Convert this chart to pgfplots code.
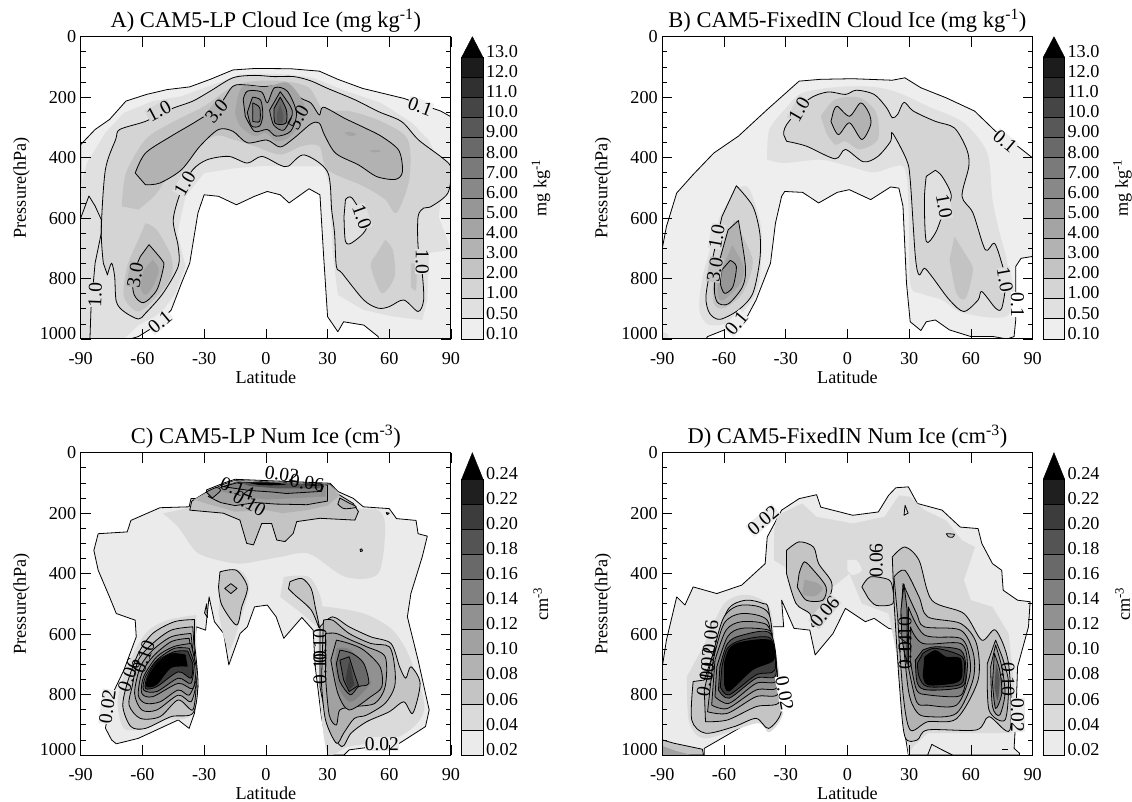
\documentclass[border=0pt]{standalone}
\usepackage{fontspec}
\setmainfont{Liberation Serif}
\usepackage{pgfplots}
\pgfplotsset{compat=1.18}
\definecolor{a0}{gray}{.933}\definecolor{aA}{gray}{.88}\definecolor{aB}{gray}{.83}\definecolor{aC}{gray}{.765}
\definecolor{aD}{gray}{.70}\definecolor{aE}{gray}{.645}\definecolor{aF}{gray}{.59}\definecolor{aG}{gray}{.535}
\definecolor{aH}{gray}{.48}\definecolor{aI}{gray}{.41}\definecolor{aJ}{gray}{.345}\definecolor{aK}{gray}{.27}
\definecolor{aL}{gray}{.19}\definecolor{aM}{gray}{.11}
\definecolor{b1}{gray}{.92}\definecolor{b2}{gray}{.855}\definecolor{b3}{gray}{.77}\definecolor{b4}{gray}{.70}
\definecolor{b5}{gray}{.63}\definecolor{b6}{gray}{.57}\definecolor{b7}{gray}{.50}\definecolor{b8}{gray}{.41}
\definecolor{b9}{gray}{.33}\definecolor{bA}{gray}{.235}\definecolor{bB}{gray}{.12}
\newcommand{\tk}{\fontsize{18.2}{18}\selectfont}
\newcommand{\lbf}{\fontsize{19.5}{19}\selectfont}
\newcommand{\ttl}{\fontsize{22.5}{23}\selectfont}
\newcommand{\F}[2]{\addplot[smooth,tension=.5,fill=#1,draw=none,forget plot] coordinates {#2} -- cycle;}
\newcommand{\FL}[2]{\addplot[smooth,tension=.5,fill=#1,draw=black,line width=.8pt,line join=round,forget plot] coordinates {#2} -- cycle;}
\newcommand{\Fa}[2]{\addplot[fill=#1,draw=none,forget plot] coordinates {#2} -- cycle;}
\newcommand{\FLa}[2]{\addplot[fill=#1,draw=black,line width=.8pt,line join=round,forget plot] coordinates {#2} -- cycle;}
\newcommand{\CL}[1]{\addplot[draw=black,line width=.8pt,line join=round,forget plot] coordinates {#1};}
\newcommand{\LB}[5]{\node[rotate=#3,fill=#5,inner sep=.3pt,font=\lbf] at (axis cs:#1,#2) {#4};}
\newcommand{\B}[3]{\addplot[fill=#1,draw=black,line width=.8pt,forget plot] coordinates {(0,#2)(1,#2)(1,#3)(0,#3)} -- cycle;}
\pgfplotsset{
 panel/.style={scale only axis,width=370.3pt,height=302.3pt,anchor=south west,
  xmin=-90,xmax=90,ymin=0,ymax=1000,y dir=reverse,axis on top,no markers,
  xtick={-90,-60,-30,0,30,60,90},xticklabels={-90,-60,-30,0,30,60,90},
  ytick={0,200,400,600,800,1000},
  yticklabels={\raisebox{-12pt}{0},200,400,600,800,\raisebox{12pt}{1000}},
  minor ytick={50,100,150,250,300,350,450,500,550,650,700,750,850,900,950},
  tick align=inside,major tick length=10pt,minor tick length=5pt,
  tick style={black,line width=.7pt},axis line style={line width=1pt},
  every axis/.append style={font=\tk},
  xticklabel style={font=\tk,yshift=-10pt},yticklabel style={font=\tk,xshift=-1pt},
  title style={font=\ttl,at={(axis description cs:.5,1)},anchor=south,yshift=-5pt},
  xlabel=Latitude,ylabel={Pressure(hPa)},
  xlabel style={font=\tk,at={(axis description cs:.5,-.125)},anchor=center},
  ylabel style={font=\tk,at={(axis description cs:-.16,.5)},anchor=center},
 },
 cbar/.style={scale only axis,width=21.3pt,height=302.3pt,anchor=south west,
  xmin=0,xmax=1,ymin=0,no markers,xtick=\empty,axis line style={draw=none},
  tick style={draw=none},yticklabel pos=right,clip=false,
  yticklabel style={font=\tk,yshift=5.7pt,xshift=-.5pt},
  ylabel style={font=\tk,at={(axis description cs:3.72,.5)},anchor=center},
 },
 cbarU/.style={cbar,ymax=15.02,ytick={0,...,14},
  yticklabels={0.10,0.50,1.00,2.00,3.00,4.00,5.00,6.00,7.00,8.00,9.00,10.0,11.0,12.0,13.0},ylabel={mg kg\textsuperscript{-1}}},
 cbarL/.style={cbar,ymax=12.05,ytick={0,...,11},
  yticklabels={0.02,0.04,0.06,0.08,0.10,0.12,0.14,0.16,0.18,0.20,0.22,0.24},ylabel={cm\textsuperscript{-3}}},
}
\newcommand{\barU}{\B{a0}{0}{1}\B{aA}{1}{2}\B{aB}{2}{3}\B{aC}{3}{4}\B{aD}{4}{5}\B{aE}{5}{6}\B{aF}{6}{7}\B{aG}{7}{8}\B{aH}{8}{9}\B{aI}{9}{10}\B{aJ}{10}{11}\B{aK}{11}{12}\B{aL}{12}{13}\B{aM}{13}{14}
\addplot[fill=black,draw=black,forget plot] coordinates {(0,14)(1,14)(.5,15.02)} -- cycle;}
\newcommand{\barL}{\B{b1}{0}{1}\B{b2}{1}{2}\B{b3}{2}{3}\B{b4}{3}{4}\B{b5}{4}{5}\B{b6}{5}{6}\B{b7}{6}{7}\B{b8}{7}{8}\B{b9}{8}{9}\B{bA}{9}{10}\B{bB}{10}{11}
\addplot[fill=black,draw=black,forget plot] coordinates {(0,11)(1,11)(.5,12.05)} -- cycle;}
\begin{document}
\begin{tikzpicture}
\useasboundingbox (0,0) rectangle (1132pt,802pt);
%% ---------- A ----------
\begin{axis}[panel,at={(80.7pt,463pt)},title={A) CAM5-LP Cloud Ice (mg kg\textsuperscript{-1})}]
\FLa{a0}{(-90,357)(-83,307)(-76,274)(-68,213)(-58,191)(-48,175)(-37,166)(-27,141)(-16,110)(-5,105)(12,106)(26,114)(35,141)(47,171)(67,204)(85,246)(90,265)(90,1000)(54.6,1000)(54.6,992)(47.6,954)(37.8,943)(35,976)(30,926)(28,716)(26.3,523)(21,503)(11.3,550)(7,523)(0.7,512)(-5.5,528)(-14.3,556)(-23,528)(-30,523)(-33,583)(-37,749)(-41,815)(-46,904)(-53,954)(-62,992)(-66,1000)(-90,1000)}
\Fa{aA}{(-90,495)(-87,418)(-78,318)(-69,252)(-55,213)(-41,197)(-23,152)(-13,125)(-2,122)(12,125)(23,136)(39,180)(56,219)(71,285)(79,340)(83,396)(86,495)(84,595)(90,705)(79,716)(78.5,871)(76,937)(62,926)(47.5,904)(35,854)(32.5,716)(31,495)(28,429)(12,429)(0,427)(-14,434)(-30,451)(-39,528)(-43,650)(-39,760)(-44,849)(-51,915)(-62,954)(-69,1000)(-90,1000)}
\FL{aB}{(-79,749)(-80,639)(-78,440)(-73,340)(-71,307)(-58.5,280)(-46,239)(-35.5,213)(-27,180)(-16,136)(-5.5,128)(3.8,132)(13.6,132)(21.8,146)(30,171)(43.4,209)(54.8,248)(66,281)(74.3,342)(86,402)(90,435)(88.5,517)(80.3,562)(76.7,567)(74,595)(74,694)(76,782)(76.7,871)(74,909)(67,871)(60,893)(54.6,898)(47.6,871)(37,782)(34.3,760)(33.4,650)(32,573)(30,447)(18.6,391)(11,428)(7,425)(-2,396)(-9,418)(-18,396)(-28.5,407)(-35.5,440)(-41,506)(-45,605)(-42.6,694)(-42.6,760)(-50,849)(-58.5,915)(-62,934)(-69,909)(-72.7,876)(-73.5,793)(-75,749)(-77,788)}
\FL{aA}{(38.7,539)(42,534)(49,628)(42,681)(38.7,677)(38,594)}
\CL{(-90,600)(-86,527)(-83,560)(-80,605)(-80,650)(-83,749)(-85,900)(-85.5,1000)}
\F{aC}{(-70,561)(-68,451)(-58.5,340)(-46,285)(-30,230)(-16,164)(-5.5,147)(8.7,147)(21,169)(28,241)(40.5,246)(56,280)(69,340)(69.7,473)(63.5,583)(58,539)(47.6,495)(30,440)(26,362)(17.5,362)(7,390)(-5.5,362)(-16,340)(-25,329)(-41,396)(-53,517)(-62,572)}
\F{aC}{(58,672)(61.7,705)(62.6,793)(56.4,849)(51,760)(53,727)}
\F{aC}{(70.5,749)(73,760)(73,838)(70.5,827)}
\F{aC}{(-58.5,617)(-53,639)(-46,727)(-46,793)(-53,860)(-62,909)(-69,860)(-67.4,760)(-62,672)}
\FL{aD}{(-63.5,451)(-58.5,385)(-46,329)(-33.8,280)(-23,230)(-16,164)(-9,160)(-2,165)(3.8,163)(10,163)(17,203)(22,220)(26,259)(28,233)(38.3,270)(48.2,302)(56.5,331)(64.7,377)(66.4,447)(63,472)(54,463)(45,424)(34,386)(28.5,325)(26,286)(22,288)(13.6,336)(7,365)(0.5,342)(-9,351)(-16,313)(-23,307)(-32,362)(-41,440)(-51.5,484)(-58.5,490)}
\F{aE}{(-14,208)(-11,164)(0,166)(10.4,152)(17.5,208)(19,263)(12,329)(5,346)(0,318)(-5.5,329)(-12.5,296)(-15,252)}
\F{aE}{(38,318)(41,315)(44,323)(41,330)}
\F{aE}{(50,378)(54,374)(56,379)(53,383)}
\FL{aD}{(-56.8,688)(-50.6,738)(-49.7,760)(-53,838)(-59.4,880)(-64,854)(-64.7,793)(-61,727)}
\F{aE}{(-55,738)(-52,771)(-55,827)(-58.5,854)(-61,827)(-59.4,771)}
\FL{aF}{(-11,208)(-9,180)(-2,183)(0.7,219)(4.2,169)(10.4,180)(14.9,252)(12,313)(5,329)(0.7,307)(-5.5,313)(-10,263)}
\FL{aG}{(-6.5,200)(-2.5,210)(-1.5,260)(-3,295)(-7,295)(-9,250)}
\FL{aH}{(-6.4,219)(-3,235)(-3,280)(-6.4,280)}
\FL{aG}{(7,182)(12,231)(12.8,259)(8.7,309)(3.8,292)(1.8,243)}
\FL{aI}{(7,200)(10,243)(9.7,286)(4.5,286)(4,237)}
\F{aJ}{(7,225)(8.5,260)(8,285)(5.5,285)(5.5,250)}
\LB{-52}{246}{28}{1.0}{aB}
\LB{-24}{246}{50}{3.0}{aD}
\LB{15.7}{268}{60}{5.0}{none}
\LB{75}{230}{-20}{0.1}{a0}
\LB{-39.4}{486}{60}{1.0}{aA}
\LB{-63.5}{788}{80}{3.0}{aD}
\LB{-83}{854}{88}{1.0}{aA}
\LB{-51.5}{943}{40}{0.1}{a0}
\LB{76}{744}{-90}{1.0}{aA}
\LB{46.7}{595}{-70}{1.0}{aA}
\end{axis}
\begin{axis}[cbarU,at={(461.7pt,463pt)}]\barU\end{axis}
%% ---------- B ----------
\begin{axis}[panel,at={(662.3pt,463pt)},title={B) CAM5-FixedIN Cloud Ice (mg kg\textsuperscript{-1})}]
\FLa{a0}{(-90,700)(-88,628)(-83,517)(-75,456)(-65,385)(-53,329)(-39,241)(-23.5,147)(-13,141)(2.6,139)(21.8,144)(27.9,136)(35.7,169)(47.9,202)(61.8,246)(72,313)(82.7,362)(90,401)(90,727)(84.4,733)(81.8,760)(81.8,937)(81,992)(77.5,1000)(71,992)(60,992)(49.6,970)(42.7,937)(38.3,943)(35.7,972)(30.5,943)(28.7,815)(27,561)(25,501)(21,497)(11.3,539)(0.9,506)(-5,515)(-14,550)(-21.8,515)(-30.5,512)(-32,528)(-35,617)(-37.4,749)(-44.4,871)(-49.6,937)(-58,965)(-68,992)(-68.8,1000)(-90,1000)}
\Fa{aA}{(-90,975)(-87,985)(-87,1000)(-90,1000)}
\F{aA}{(-39,396)(-38,307)(-30.5,241)(-22,186)(-4,166)(13,166)(25,186)(39,230)(56.6,285)(68,385)(70.5,539)(74,650)(78,760)(78.3,920)(56.6,915)(46,871)(35.7,849)(30.5,815)(29.6,550)(27,429)(13,449)(1,429)(-13,407)(-30.5,418)(-39,407)}
\F{aA}{(-55,506)(-48,500)(-42,628)(-42,749)(-44.4,849)(-55,937)(-67,954)(-72,904)(-70,782)(-62,595)}
\FL{aB}{(-31,324)(-29.6,291)(-19,208)(-9.6,183)(-1,191)(4.4,177)(13,191)(19,235)(21.8,268)(24.4,257)(27.5,217)(32,246)(42.7,280)(52,302)(58,373)(59,429)(55.7,528)(61,583)(67,705)(71.4,683)(75,749)(77,810)(75,898)(72,898)(65.3,843)(63.5,871)(56.6,909)(49.6,871)(41,793)(37.4,766)(34.8,788)(33,727)(30.5,473)(28.7,407)(21.8,318)(21,346)(14.8,396)(7.8,414)(-1,373)(-6,404)(-20,362)(-29.6,346)}
\FL{aA}{(42.7,442)(46,462)(50.5,528)(46,594)(42.7,650)(38.3,677)(37.4,539)(38.3,462)}
\F{aC}{(-13,263)(-6,208)(6,202)(14,252)(14.8,340)(6,373)(-1,346)(-6,357)(-10.4,318)}
\F{aC}{(52,661)(58,727)(61,771)(57.5,865)(53,849)(49.6,738)}
\FL{aD}{(-7,252)(-5,230)(1,263)(6.4,219)(10.4,252)(11.3,291)(7,340)(1,285)(-4.4,324)(-8,280)}
\FL{aB}{(-54,493)(-46,561)(-42.6,650)(-42.6,738)(-46,849)(-53,904)(-62,935)(-67,915)(-68.8,860)(-66,749)(-61,595)}
\F{aC}{(-55,606)(-50,672)(-46,749)(-51,849)(-60,898)(-65,882)(-65,793)(-60,683)}
\FL{aD}{(-53,608)(-49.6,760)(-51,827)(-58,884)(-63.5,876)(-64.4,804)(-58,639)}
\F{aE}{(-56,690)(-50.5,760)(-52,815)(-60,870)(-63,860)(-63,800)}
\FL{aF}{(-57,740)(-54,760)(-55.7,827)(-59.7,849)(-61.8,815)(-61,771)}
\LB{-23.5}{241}{60}{1.0}{aB}
\LB{76.6}{346}{-40}{0.1}{a0}
\LB{47}{561}{-80}{1.0}{aA}
\LB{-63.5}{661}{80}{1.0}{aA}
\LB{-64.4}{771}{80}{3.0}{aC}
\LB{-54}{948}{50}{0.1}{a0}
\LB{76.6}{804}{-80}{1.0}{aA}
\LB{82.7}{887}{-90}{0.1}{white}
\end{axis}
\begin{axis}[cbarU,at={(1043.3pt,463pt)}]\barU\end{axis}
%% ---------- C ----------
\begin{axis}[panel,at={(80.7pt,47pt)},title={C) CAM5-LP Num Ice (cm\textsuperscript{-3})}]
\FLa{b1}{(-72.7,963)(-75,950)(-78,911)(-74.4,796)(-69,719)(-63,609)(-63.5,554)(-72.7,532)(-76,477)(-81.5,389)(-83.6,323)(-81.5,268)(-67.4,262)(-65.6,224)(-51.5,182)(-37.3,179)(-36.4,152)(-28.8,151)(-28.8,123)(-20.7,101)(-15,88)(31.2,101)(35.2,129)(42.5,151)(47.4,179)(60,185)(63.5,218)(73,224)(74,268)(78.5,276)(76,345)(70.5,466)(68.8,543)(74,686)(79.4,851)(77.6,906)(65,961)(40.5,983)(38,1000)(30.8,1000)(27,873)(24,708)(23,587)(17.5,545)(8.7,614)(5,543)(0.7,504)(-5.5,510)(-9,576)(-12.5,598)(-18,702)(-20.5,598)(-25,559)(-27.6,477)(-29.3,587)(-33.8,576)(-35.5,675)(-33,774)(-34.7,862)(-37.3,912)(-42.6,884)(-51.5,912)(-62,945)}
\F{b2}{(-50,201)(-42.6,246)(-33.8,328)(-23,356)(-12.5,367)(-2,356)(7,345)(21,334)(38.7,411)(54.6,400)(58,246)(54.6,190)(44,185)(12,179)(-37.3,182)}
\F{b2}{(-33.8,537)(-48,554)(-58.5,598)(-67.4,708)(-72,818)(-69,912)(-58.5,912)(-50,884)(-37.3,873)(-33.8,763)}
\F{b2}{(-21.4,389)(-12.5,389)(-8,444)(-12.5,554)(-18,653)(-23,532)}
\F{b2}{(8.7,411)(21,411)(27,488)(26.3,576)(17.5,532)(7,477)}
\F{b2}{(24.6,510)(30,510)(47.6,532)(61.7,587)(70.5,686)(77,851)(65,939)(40.5,972)(30,994)(26.3,818)}
\FLa{b3}{(-37,190)(-36,160)(-28.8,130)(-20.7,105)(-15,92)(31.2,105)(34.4,134)(42.5,168)(45,195)(43.3,223)(26.3,217)(15,228)(13.3,267)(9.3,294)(5.3,289)(2.8,234)(-2,234)(-6,305)(-9.3,300)(-12.6,223)(-20.7,200)}
\Fa{b4}{(-35,155)(-27,125)(-15,92)(31,105)(36,140)(30,175)(20,190)(8,200)(0,190)(-15,195)(-28,170)}
\FLa{b5}{(-28,145)(-23,118)(-14,97)(30,107)(30,160)(20,172)(5,170)(-5,165)(-15,175)(-22,165)}
\Fa{b6}{(-24,125)(-20,108)(-13,95)(29,108)(29,145)(15,150)(0,155)(-14,140)}
\FLa{b7}{(-21,112)(-13,98)(28,110)(27,128)(10,135)(3,130)(-8,125)}
\Fa{b9}{(-13,98)(5,98)(15,105)(27,112)(26,118)(5,118)(-8,110)}
\Fa{black}{(-10,98)(0,98)(6,100)(10,106)(2,108)(-4,106)}
\FL{b6}{(-29,130)(-24,115)(-22,125)(-26,150)}
\FL{b4}{(36,150)(40,165)(44,180)(38,185)(35,170)}
\FL{b3}{(-34.7,552)(-44.4,559)(-55,598)(-62,664)(-67.4,763)(-69.5,840)(-65.6,906)(-58.5,912)(-46,873)(-35.5,862)(-33,763)(-34.7,631)}
\FL{b4}{(-35.5,576)(-46,587)(-55,631)(-62,686)(-65,774)(-66.5,835)(-61,879)(-51.4,873)(-42.6,818)(-35.5,851)(-33.8,763)}
\FL{b5}{(-36.4,598)(-46,609)(-55,653)(-61,708)(-63.8,796)(-60.3,851)(-53,851)(-42.6,802)(-36.4,824)(-33.8,763)}
\FL{b6}{(-37.3,614)(-46,625)(-55,675)(-60.3,730)(-62,802)(-58.5,829)(-51.4,824)(-42.6,785)(-37.3,802)(-33.8,752)}
\FL{b7}{(-36.4,631)(-45,642)(-53,675)(-59.4,741)(-60.3,796)(-55,807)(-42.6,763)(-35.5,780)(-33.8,708)}
\FL{b8}{(-37.3,647)(-44.4,647)(-53,686)(-58.5,741)(-59.4,785)(-53,790)(-42.6,746)(-36.4,763)(-34.7,697)}
\FL{bA}{(-38,656)(-44.4,658)(-53,690)(-57.6,741)(-58.5,780)(-53,774)(-42.6,725)(-36.4,746)(-35.5,697)}
\F{black}{(-39,668)(-46,664)(-53,695)(-57.5,745)(-58,775)(-53,768)(-46,712)(-38,708)}
\FL{b3}{(26.3,576)(32.5,543)(40.5,576)(51,609)(60.8,631)(65,708)(68,746)(70.5,708)(75,763)(71.4,862)(67,824)(60,857)(49,890)(41.4,928)(37,972)(30.8,912)(26.3,774)}
\FL{b4}{(28,554)(32.5,554)(40.5,598)(51,631)(60,642)(62.6,708)(62.6,774)(58,829)(49,868)(43,879)(37.8,928)(34.3,961)(29,884)(27,763)}
\FL{b5}{(29,598)(34.3,598)(41.4,620)(49,642)(58,675)(58,774)(53,829)(43,840)(36,851)(34.3,901)(30.8,868)(29,741)}
\FL{b6}{(34.3,620)(40.5,631)(47.6,653)(55.5,708)(56.4,774)(51,807)(40.5,851)(35,796)(31.6,686)}
\F{b7}{(34.3,647)(41.4,653)(49,746)(51,763)(41.4,824)(35,774)(33.4,697)}
\FL{b8}{(36,653)(42,664)(47.6,697)(50,763)(45,774)(41,801)(36,757)(34.3,697)}
\FLa{b9}{(40.5,675)(43,730)(45,770)(40.5,790)(37.8,752)(36,686)}
\Fa{bA}{(40.5,686)(42,730)(43,768)(40.5,785)(38.7,752)}
\FL{b3}{(-22.3,394)(-14.3,389)(-9,444)(-11.7,510)(-14.3,570)(-21.4,504)(-23,444)}
\FLa{b4}{(-17,433)(-14,449)(-17,466)(-20,449)}
\FL{b3}{(11.7,427)(17.5,416)(22,449)(24,510)(26,580)(22,520)(14,470)(11,450)}
\FLa{b3}{(-29.8,530)(-28.8,500)(-28.4,545)}
\FLa{b4}{(45.8,320)(46.6,318)(47,325)(46,327)}
\FLa{b5}{(58.5,198)(60,200)(59,205)}
\LB{-77}{840}{82}{0.02}{b1}
\LB{-66.5}{735}{70}{0.06}{none}
\LB{-59.4}{675}{70}{0.10}{none}
\LB{7.8}{72}{-8}{0.02}{none}
\LB{20}{100}{-8}{0.06}{none}
\LB{-14}{119}{-20}{0.14}{none}
\LB{-8}{168}{-30}{0.10}{none}
\LB{56.4}{963}{0}{0.02}{b1}
\LB{26.3}{640}{90}{0.10}{none}
\LB{26.3}{710}{90}{0.10}{none}
\end{axis}
\begin{axis}[cbarL,at={(461.7pt,47pt)}]\barL\end{axis}
%% ---------- D ----------
\begin{axis}[panel,at={(662.3pt,47pt)},title={D) CAM5-FixedIN Num Ice (cm\textsuperscript{-3})}]
\FLa{b1}{(-90,708)(-88,620)(-83,477)(-79,504)(-75,444)(-63.5,466)(-51.4,438)(-40,367)(-39,279)(-32,190)(-23.5,152)(-15,139)(-13,180)(2.6,207)(15,196)(20,141)(23.5,116)(29.6,113)(34,168)(46,190)(54.8,246)(63.5,251)(65.3,300)(70.5,367)(75,389)(75.7,455)(82.7,488)(88.8,493)(88,576)(82.7,708)(81.8,884)(81,978)(83.6,994)(83.6,1000)(29.6,1000)(27.9,928)(26,741)(24.4,587)(20,581)(13,548)(8.7,559)(-1,515)(-7,598)(-15.7,669)(-18.3,587)(-26,581)(-32,488)(-31,576)(-37.4,576)(-33,840)(-39,912)(-44.4,879)(-69.6,978)(-69.6,1000)(-90,1000)}
\FLa{b3}{(-90,950)(-84.4,961)(-70.5,981)(-70,1000)(-90,1000)}
\Fa{b5}{(-90,970)(-84,985)(-76,1000)(-90,1000)}
\Fa{b2}{(-34,207)(-22,168)(-15,212)(2.6,234)(18,212)(25,141)(30.5,146)(37.4,190)(48,224)(55.7,290)(62,312)(56.6,422)(60,488)(70.5,510)(78.3,598)(81,763)(80,928)(39,928)(32,972)(29.6,1000)(26,741)(20,532)(7,499)(1,400)(-13,477)(-20,532)(-30.5,378)(-35.7,356)(-35.7,257)}
\F{b1}{(0,356)(4.4,356)(7,389)(2.6,405)(0,389)}
\F{b2}{(-78,740)(-77,890)(-69,945)(-44,895)(-38,925)(-31,850)(-35,650)(-38,510)(-49,470)(-60,500)(-70,640)}
\FL{b3}{(-75,757)(-75.7,884)(-69,928)(-55,906)(-44.4,879)(-38.3,912)(-32,851)(-35,708)(-38.3,521)(-41,499)(-49.6,488)(-58.3,521)(-65.3,664)(-69.6,752)}
\FL{b4}{(-69,890)(-58.3,884)(-44.4,840)(-33,824)(-35.7,708)(-38.3,532)(-51.4,504)(-60,543)(-65.3,664)(-69.6,785)}
\FL{b5}{(-68,857)(-58.3,862)(-44.4,807)(-33.6,796)(-36.6,664)(-39,554)(-51.4,532)(-60,565)(-65.3,686)}
\FL{b6}{(-66,835)(-58.3,846)(-44.4,785)(-34,774)(-36.6,640)(-39,570)(-51.4,559)(-59,587)(-64.4,686)}
\FL{b7}{(-64.4,807)(-57.5,829)(-44.4,763)(-34.3,752)(-36.6,620)(-38.3,587)(-51.4,581)(-58.3,609)(-63.5,708)}
\FL{b9}{(-62.7,785)(-57.5,812)(-44.4,746)(-34.8,735)(-37.4,598)(-51.4,604)(-58.3,631)(-62,708)}
\FL{bA}{(-61.8,774)(-57.5,801)(-44.4,735)(-35.3,719)(-37.4,614)(-51.4,620)(-58.3,647)(-61,708)}
\F{black}{(-60,763)(-57.5,790)(-46,719)(-35.7,686)(-37.4,620)(-51.4,625)(-57.5,647)(-60,697)}
\FL{b3}{(-29.6,323)(-23.5,295)(-16.5,312)(-14,367)(-7.8,427)(-8.7,477)(-16.5,576)(-18.3,532)(-25,499)(-29.6,400)}
\FL{b4}{(-23.5,400)(-21,361)(-16.5,389)(-10.4,444)(-12,488)(-20,488)(-24.4,444)}
\F{b5}{(-21,420)(-15,430)(-12,450)(-16,475)(-22,470)}
\FL{b3}{(7,444)(11,411)(20,420)(22,450)(22,500)(14,505)(10,480)}
\FL{b3}{(21.8,345)(27.9,312)(34.8,356)(41,488)(56.6,532)(65.3,620)(72,587)(78.3,697)(79,917)(68.8,873)(62.7,917)(39,917)(34,950)(27.9,939)(25.2,763)(22.6,488)}
\FL{b4}{(22.6,411)(27.9,389)(34.8,477)(39,543)(55,565)(62.7,631)(63.5,752)(53,880)(39,890)(30.5,917)(27,796)(24.4,543)}
\FL{b4}{(72,620)(75.7,686)(78.3,763)(76.6,884)(68.8,851)(68,697)}
\FL{b5}{(27,433)(33.6,532)(37.4,576)(55,587)(61.2,664)(61,752)(53,862)(39,873)(33.6,857)(29.6,785)(26,543)}
\FL{b6}{(29.6,510)(37.4,603)(55,614)(59.3,675)(59.3,741)(53,835)(39,835)(33.6,824)(29.6,708)}
\FL{b7}{(30.5,576)(36.6,631)(55,631)(58.3,697)(56.6,785)(53,807)(39,801)(33.6,785)(30.5,686)}
\FL{b9}{(36.6,653)(42.7,642)(55,653)(57.5,708)(55.7,774)(39,785)(34,763)(33,686)}
\FL{bA}{(36.6,664)(42.7,647)(55.7,675)(56.6,741)(54,769)(39,774)(34.8,741)(34,697)}
\F{black}{(37.4,675)(42.7,653)(48,675)(55,680)(55.7,741)(52,763)(39,769)(36.6,736)}
\FL{b5}{(72,636)(75,708)(76.6,796)(74,868)(70.5,840)(69.6,708)}
\FL{b7}{(71.4,664)(74,719)(75,796)(72,846)(70.5,763)}
\F{b9}{(72.3,697)(74,752)(73,818)(71.4,774)}
\FLa{b7}{(27.5,435)(29,520)(29,700)(26.5,620)(26,520)}
\FLa{b2}{(28,174)(29.5,200)(27.5,207)}
\FL{b3}{(48,268)(52,270)(51,280)(49,278)}
\CL{(39,1000)(41,965)(46,983)(51,1000)}
\CL{(75,980)(78,980)}
\LB{-41}{224}{40}{0.02}{b1}
\LB{14}{356}{90}{0.06}{none}
\LB{-11}{526}{50}{0.06}{b2}
\LB{-66.5}{610}{85}{0.06}{none}
\LB{-68}{700}{85}{0.02}{none}
\LB{-69}{750}{80}{0.10}{none}
\LB{-30.5}{796}{-80}{0.02}{white}
\LB{28}{600}{90}{0.10}{none}
\LB{28}{660}{90}{0.14}{none}
\LB{78}{750}{-90}{0.10}{none}
\LB{82.7}{868}{-90}{0.02}{b1}
\end{axis}
\begin{axis}[cbarL,at={(1043.3pt,47pt)}]\barL\end{axis}
\end{tikzpicture}
\end{document}
